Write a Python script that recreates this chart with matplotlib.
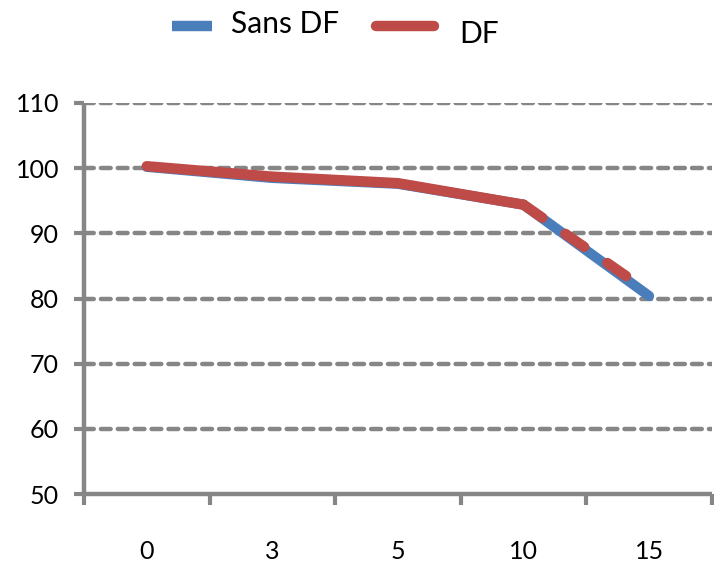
import matplotlib
matplotlib.use("Agg")
import matplotlib.pyplot as plt
from matplotlib.lines import Line2D

plt.rcParams['font.family'] = ['Lato', 'DejaVu Sans']

categories = ["0", "3", "5", "10", "15"]
sans_df = [100.2, 98.5, 97.6, 94.4, 80.4]
df = [100.3, 98.7, 97.7, 94.4, 81.0]
y_ticks = [50, 60, 70, 80, 90, 100, 110]
series_names = ["Sans DF", "DF"]

blue = "#4A7EBB"
red = "#BE4B48"
grey = "#868686"

W, H = 714, 568
fig = plt.figure(figsize=(W / 100, H / 100), dpi=100)
ax = fig.add_axes([0.1176, 0.130, 0.8794, 0.6887])

x = list(range(len(categories)))

# horizontal gridlines
for v in y_ticks[1:]:
    ax.axhline(v, color=grey, lw=3.2, ls=(0, (2.2, 1.6)),
               dash_capstyle='round', zorder=1)

ax.plot(x, sans_df, color=blue, lw=7.3, solid_capstyle='round',
        solid_joinstyle='round', zorder=3)
ax.plot(x[:4], df[:4], color=red, lw=7.5, solid_capstyle='round',
        solid_joinstyle='round', zorder=4)
ax.plot(x[3:], df[3:], color=red, lw=7.5, ls=(0, (2.2, 2.7)),
        dash_capstyle='round', zorder=4)

ax.set_xlim(-0.5, len(categories) - 0.5)
ax.set_ylim(50, 110)
ax.set_yticks(y_ticks)
ax.set_yticklabels([str(v) for v in y_ticks])

ax.set_xticks([i - 0.5 for i in range(len(categories) + 1)])
ax.set_xticklabels([])
ax.set_xticks(x, minor=True)
ax.set_xticklabels(categories, minor=True)

ax.tick_params(axis='y', length=7, width=3, color=grey, pad=11,
               labelsize=18, labelcolor='black')
ax.tick_params(axis='x', which='major', length=8, width=3, color=grey,
               direction='out')
ax.tick_params(axis='x', which='minor', length=0, pad=33, labelsize=18,
               labelcolor='black')

for side in ['top', 'right']:
    ax.spines[side].set_visible(False)
for side in ['left', 'bottom']:
    ax.spines[side].set_color(grey)
    ax.spines[side].set_linewidth(3.2)
    ax.spines[side].set_capstyle('butt')

# legend drawn in figure pixel coordinates
def fx(px):
    return px / W

def fy(py):
    return 1 - py / H

fig.add_artist(Line2D([fx(172), fx(212)], [fy(26), fy(26)], color=blue,
                      lw=7.5, solid_capstyle='butt', transform=fig.transFigure))
fig.text(fx(231), fy(24), series_names[0], fontsize=21.5, va='center',
         ha='left')
fig.add_artist(Line2D([fx(376), fx(434)], [fy(26), fy(26)], color=red,
                      lw=7.5, solid_capstyle='round', transform=fig.transFigure))
fig.text(fx(459), fy(34), series_names[1], fontsize=21.5, va='center',
         ha='left')

fig.savefig("out.png", dpi=100)
